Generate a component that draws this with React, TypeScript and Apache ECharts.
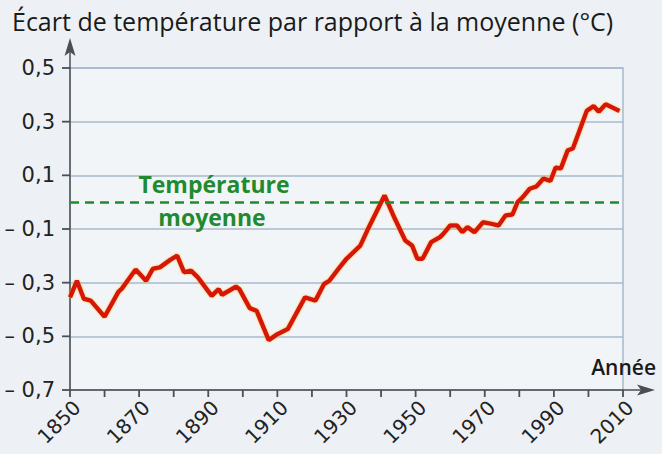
import React, { useEffect, useRef } from "react";
import * as echarts from "echarts";

// Years of the smoothed curve
const years = [
  1850, 1852, 1854, 1856, 1860, 1864, 1865, 1869, 1872, 1874, 1876, 1879, 1881,
  1883, 1885, 1887, 1891, 1893, 1894, 1898, 1899, 1902, 1904, 1907.5, 1910, 1913,
  1918, 1921, 1923.5, 1925, 1928, 1930, 1934, 1936, 1941, 1944, 1947, 1949, 1950.5,
  1952, 1954.5, 1957, 1958, 1960, 1962, 1963.5, 1965, 1967, 1969.5, 1972, 1974,
  1976, 1978, 1979.5, 1981, 1983, 1985, 1987, 1989, 1990.5, 1992, 1994, 1995.5,
  1999.5, 2001.5, 2003, 2005, 2009,
];

// Temperature anomaly (°C)
const anomaly = [
  -0.355, -0.293, -0.36, -0.367, -0.427, -0.334, -0.322, -0.251, -0.293, -0.248,
  -0.243, -0.215, -0.199, -0.261, -0.255, -0.28, -0.349, -0.324, -0.345, -0.315,
  -0.324, -0.395, -0.405, -0.514, -0.492, -0.473, -0.355, -0.367, -0.305, -0.293,
  -0.243, -0.211, -0.162, -0.106, 0.025, -0.062, -0.143, -0.162, -0.211, -0.211,
  -0.149, -0.131, -0.118, -0.087, -0.087, -0.112, -0.093, -0.112, -0.075, -0.081,
  -0.087, -0.05, -0.046, 0.0, 0.019, 0.05, 0.059, 0.088, 0.079, 0.129, 0.125,
  0.193, 0.2, 0.34, 0.358, 0.337, 0.365, 0.34,
];

const meanValue = [0];
const xLabelYears = [1850, 1870, 1890, 1910, 1930, 1950, 1970, 1990, 2010];
const xTickYears = [
  1850, 1860, 1870, 1880, 1890, 1900, 1910, 1920, 1930, 1940, 1950, 1960, 1970,
  1980, 1990, 2000, 2010,
];
const yTickValues = [-0.7, -0.5, -0.3, -0.1, 0.1, 0.3, 0.5];

const TITLE = "Écart de température par rapport à la moyenne (°C)";
const AXIS_COLOR = "#4a4f55";
const GREEN = "#1f8a2f";

export default function App() {
  const ref = useRef<HTMLDivElement>(null);

  useEffect(() => {
    if (!ref.current) return;
    const chart = echarts.init(ref.current, undefined, { renderer: "svg" });
    const data = years.map((y, i) => [y, anomaly[i]]);
    const yMin = yTickValues[0];
    const xMin = xTickYears[0];

    const staticGraphics: any[] = [
      // y axis extension with arrow
      { type: "line", shape: { x1: 70, y1: 68, x2: 70, y2: 50 }, style: { stroke: AXIS_COLOR, lineWidth: 1.5 }, z: 10 },
      { type: "polygon", shape: { points: [[70, 38], [64.5, 56], [70, 52], [75.5, 56]] }, style: { fill: AXIS_COLOR }, z: 10 },
      // x axis extension with arrow
      { type: "line", shape: { x1: 623, y1: 390, x2: 645, y2: 390 }, style: { stroke: AXIS_COLOR, lineWidth: 1.5 }, z: 10 },
      { type: "polygon", shape: { points: [[655, 390], [637, 384.5], [641, 390], [637, 395.5]] }, style: { fill: AXIS_COLOR }, z: 10 },
      {
        type: "text",
        x: 656,
        y: 367,
        style: { text: "Année", fontFamily: "Open Sans", fontSize: 21, fontWeight: 600, fill: "#1a1a1a", align: "right", verticalAlign: "middle" },
        z: 10,
      },
      {
        type: "text",
        x: 214,
        y: 184,
        style: { text: "Température", fontFamily: "Open Sans", fontSize: 23, fontWeight: "bold", fill: GREEN, align: "center", verticalAlign: "middle" },
        z: 10,
      },
      {
        type: "text",
        x: 212,
        y: 217,
        style: { text: "moyenne", fontFamily: "Open Sans", fontSize: 23, fontWeight: "bold", fill: GREEN, align: "center", verticalAlign: "middle" },
        z: 10,
      },
    ];

    chart.setOption({
      animation: false,
      backgroundColor: "#edf1f5",
      title: {
        text: TITLE,
        left: 7,
        top: 3,
        textStyle: {
          fontFamily: "Open Sans",
          fontSize: 25,
          fontWeight: "normal",
          color: "#1a1a1a",
        },
      },
      grid: {
        left: 70,
        right: 39,
        top: 68,
        bottom: 64,
        show: true,
        borderColor: "#a7b9cc",
        borderWidth: 1.5,
        backgroundColor: "rgba(255,255,255,0.3)",
      },
      xAxis: {
        type: "value",
        min: 1850,
        max: 2010,
        interval: 10,
        axisLine: { show: true, onZero: false, lineStyle: { color: AXIS_COLOR, width: 1.5 } },
        axisTick: { show: false },
        splitLine: { show: false },
        axisLabel: {
          rotate: 45,
          margin: 7,
          verticalAlign: "top",
          fontFamily: "DejaVu Sans",
          fontSize: 20,
          color: "#222",
          formatter: (v: number) => (xLabelYears.includes(v) ? String(v) : ""),
        },
      },
      yAxis: {
        type: "value",
        min: -0.7,
        max: 0.5,
        interval: 0.2,
        axisLine: { show: true, onZero: false, lineStyle: { color: AXIS_COLOR, width: 1.5 } },
        axisTick: { show: false },
        splitLine: { show: true, lineStyle: { color: "#a7b9cc", width: 1.5 } },
        axisLabel: {
          margin: 15,
          fontFamily: "DejaVu Sans",
          fontSize: 21,
          color: "#222",
          formatter: (v: number) => {
            const r = Math.round(v * 10) / 10;
            const s = Math.abs(r).toFixed(1).replace(".", ",");
            return r < 0 ? "– " + s : s;
          },
        },
      },
      series: [
        {
          type: "line",
          data,
          showSymbol: false,
          smooth: false,
          lineStyle: {
            color: "#d6120c",
            width: 4.5,
            shadowColor: "rgba(255,170,0,0.7)",
            shadowBlur: 2,
          },
          markLine: {
            silent: true,
            symbol: ["none", "none"],
            label: { show: false },
            lineStyle: { color: GREEN, type: [9, 6], width: 2.5 },
            data: meanValue.map((v) => ({ yAxis: v })),
          },
          z: 3,
        },
      ],
      graphic: staticGraphics,
    });

    // Tick marks placed through the chart's own scales
    const tickGraphics: any[] = [];
    xTickYears.forEach((yr) => {
      const p = chart.convertToPixel({ gridIndex: 0 }, [yr, yMin]) as number[];
      if (p && isFinite(p[0])) {
        tickGraphics.push({
          type: "line",
          shape: { x1: p[0], y1: p[1], x2: p[0], y2: p[1] + 7 },
          style: { stroke: AXIS_COLOR, lineWidth: 1.8 },
          z: 11,
        });
      }
    });
    yTickValues.forEach((v) => {
      const p = chart.convertToPixel({ gridIndex: 0 }, [xMin, v]) as number[];
      if (p && isFinite(p[1])) {
        tickGraphics.push({
          type: "line",
          shape: { x1: p[0] - 8, y1: p[1], x2: p[0], y2: p[1] },
          style: { stroke: AXIS_COLOR, lineWidth: 1.8 },
          z: 11,
        });
      }
    });
    chart.setOption({ graphic: staticGraphics.concat(tickGraphics) });

    return () => chart.dispose();
  }, []);

  return (
    <div
      ref={ref}
      style={{ position: "fixed", left: 0, top: 0, width: 662, height: 454 }}
    />
  );
}
